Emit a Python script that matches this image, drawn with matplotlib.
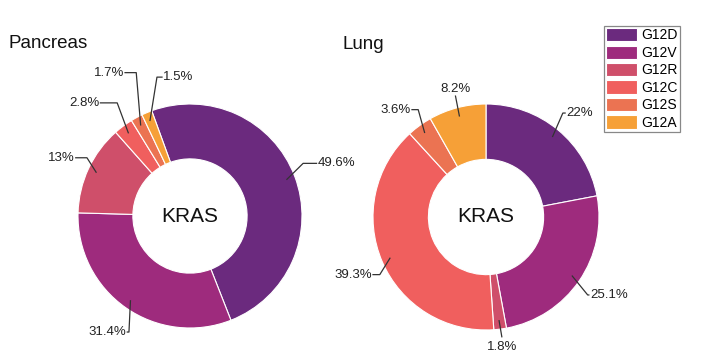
import numpy as np
import matplotlib
matplotlib.use('Agg')
import matplotlib.pyplot as plt

plt.rcParams['font.family'] = ['Liberation Sans', 'DejaVu Sans']

mutations = ['G12D', 'G12V', 'G12R', 'G12C', 'G12S', 'G12A']
colors = ['#6B2A7E', '#9E2B7D', '#CF4F6A', '#F05F5E', '#EB7352', '#F6A037']

pancreas = [49.6, 31.4, 13, 2.8, 1.7, 1.5]
lung = [22, 25.1, 1.8, 39.3, 3.6, 8.2]
pancreas_labels = ['49.6%', '31.4%', '13%', '2.8%', '1.7%', '1.5%']
lung_labels = ['22%', '25.1%', '1.8%', '39.3%', '3.6%', '8.2%']

# label layout: (elbow x, elbow y, end x, mode)
pancreas_layout = [(1.01, 0.47, 1.13, 'left'),
                   (-0.545, -1.036, -0.56, 'right'),
                   (-0.92, 0.52, -1.02, 'right'),
                   (-0.65, 1.01, -0.80, 'right'),
                   (-0.48, 1.28, -0.58, 'right'),
                   (-0.295, 1.24, -0.25, 'left')]
lung_layout = [(0.68, 0.92, 0.70, 'left'),
               (0.90, -0.69, 0.91, 'left'),
               (0.14, -1.06, 0.14, 'below'),
               (-0.94, -0.51, -1.0, 'right'),
               (-0.60, 0.95, -0.655, 'right'),
               (-0.27, 1.07, -0.27, 'above')]

W, H = 712, 356
fig = plt.figure(figsize=(W / 100, H / 100), dpi=100)


def donut(cx, cy, R, values, labels, layout, start):
    half = 150
    ax = fig.add_axes([(cx - half) / W, (H - cy - half) / H, 2 * half / W, 2 * half / H])
    lim = half / R
    wedges, _ = ax.pie(values, colors=colors, startangle=start, counterclock=False,
                       radius=1, wedgeprops=dict(width=0.49, edgecolor='white', linewidth=0.8))
    ax.set_xlim(-lim, lim)
    ax.set_ylim(-lim, lim)
    ax.set_aspect('equal')
    ax.axis('off')
    ax.text(0, 0, 'KRAS', ha='center', va='center', fontsize=15, color='#111111')

    total = sum(values)
    cum = 0
    for v, lab, (ex, ey, endx, mode) in zip(values, labels, layout):
        mid = start - (cum + v / 2) / total * 360
        cum += v
        sx = 0.925 * np.cos(np.radians(mid))
        sy = 0.925 * np.sin(np.radians(mid))
        ax.plot([sx, ex, endx], [sy, ey, ey], color='#333333', lw=0.9, clip_on=False)
        if mode == 'left':
            ax.text(endx + 0.01, ey, lab, ha='left', va='center', fontsize=9.5, color='#222222')
        elif mode == 'right':
            ax.text(endx - 0.01, ey, lab, ha='right', va='center', fontsize=9.5, color='#222222')
        elif mode == 'below':
            ax.text(endx, ey - 0.04, lab, ha='center', va='top', fontsize=9.5, color='#222222')
        else:
            ax.text(endx, ey + 0.01, lab, ha='center', va='bottom', fontsize=9.5, color='#222222')
    return wedges


w1 = donut(190, 216, 112, pancreas, pancreas_labels, pancreas_layout, 110)
w2 = donut(486, 217, 113, lung, lung_labels, lung_layout, 90)

fig.text(8 / W, 1 - 48 / H, 'Pancreas', fontsize=13.5, va='baseline', color='#111111')
fig.text(343 / W, 1 - 49 / H, 'Lung', fontsize=13.5, va='baseline', color='#111111')

leg = fig.legend(w1, mutations, loc='upper left', bbox_to_anchor=(604 / W, 1 - 26 / H),
                 fontsize=10, handlelength=2.2, handleheight=1.1, labelspacing=0.22,
                 handletextpad=0.35, borderpad=0.15, borderaxespad=0, fancybox=False,
                 framealpha=1)
leg.get_frame().set_edgecolor('#888888')
leg.get_frame().set_linewidth(0.9)

fig.savefig('out.png', dpi=100)
